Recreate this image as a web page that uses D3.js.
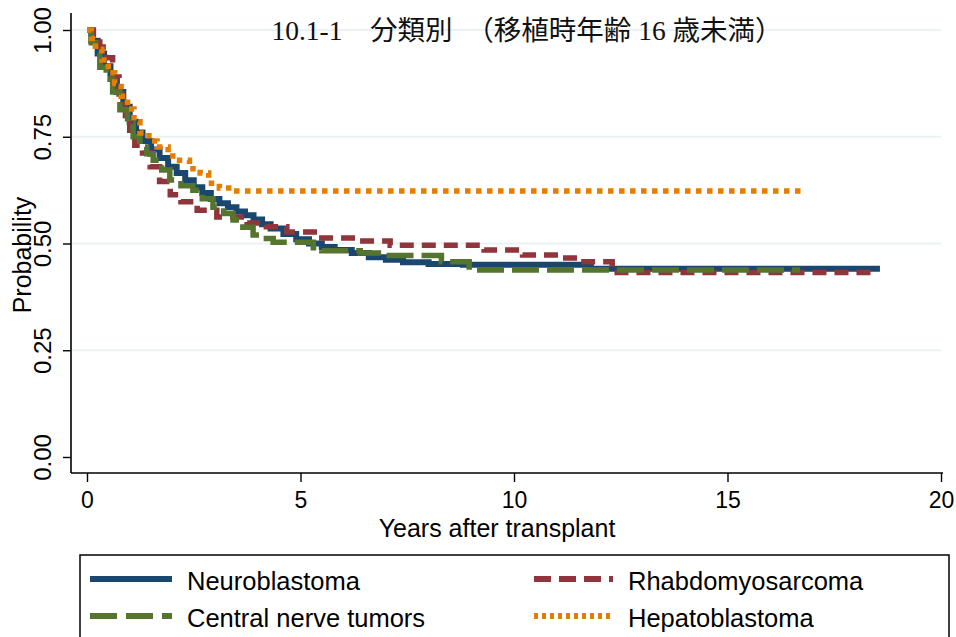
<!DOCTYPE html>
<html><head><meta charset="utf-8">
<script src="https://cdn.jsdelivr.net/npm/d3@7"></script>
<style>
html,body{margin:0;padding:0;background:#fff;}
svg{display:block;}
text{font-family:"Liberation Sans",Arial,sans-serif;}
</style></head>
<body>
<svg id="chart" width="956" height="637"></svg>
<script>
const titleText = "10.1-1\u3000分類別\u3000（移植時年齢 16 歳未満）";
const xLabel = "Years after transplant";
const yLabel = "Probability";
const xTicks = [0, 5, 10, 15, 20];
const yTicks = [0, 0.25, 0.5, 0.75, 1.0];
const seriesNames = ["Neuroblastoma", "Rhabdomyosarcoma", "Central nerve tumors", "Hepatoblastoma"];
const seriesColors = ["#1a476f", "#90353b", "#55752f", "#e37e00"];

const neuroT = [0, 0.1, 0.25, 0.4, 0.55, 0.7, 0.85, 1.0, 1.15, 1.3, 1.5, 1.7, 1.9, 2.1, 2.3, 2.5, 2.7, 2.9, 3.1, 3.3, 3.5, 3.7, 3.9, 4.1, 4.3, 4.6, 4.9, 5.2, 5.5, 5.8, 6.2, 6.6, 7.0, 7.4, 8.0, 8.8, 11.8, 18.57];
const neuroS = [1.0, 0.975, 0.945, 0.915, 0.885, 0.855, 0.82, 0.785, 0.76, 0.74, 0.72, 0.7, 0.68, 0.665, 0.648, 0.632, 0.618, 0.604, 0.594, 0.585, 0.575, 0.566, 0.556, 0.545, 0.535, 0.522, 0.51, 0.5, 0.492, 0.485, 0.478, 0.468, 0.462, 0.456, 0.452, 0.45, 0.441, 0.441];

const rhabT = [0, 0.15, 0.3, 0.45, 0.6, 0.75, 0.9, 1.0, 1.12, 1.3, 1.48, 1.7, 1.95, 2.2, 2.58, 3.04, 3.75, 4.2, 4.68, 5.39, 6.39, 7.1, 9.3, 10.2, 11.1, 11.5, 12.3, 18.5];
const rhabS = [1.0, 0.98, 0.96, 0.935, 0.89, 0.85, 0.8, 0.765, 0.73, 0.712, 0.68, 0.645, 0.614, 0.598, 0.578, 0.562, 0.548, 0.539, 0.527, 0.513, 0.506, 0.496, 0.485, 0.473, 0.466, 0.457, 0.432, 0.432];

const cnsT = [0, 0.1, 0.2, 0.3, 0.45, 0.6, 0.77, 0.95, 1.08, 1.24, 1.4, 1.55, 1.75, 1.94, 2.2, 2.48, 2.7, 2.95, 3.2, 3.42, 3.65, 3.89, 4.1, 4.36, 5.3, 5.5, 6.4, 7.0, 8.3, 8.95, 16.7];
const cnsS = [1.0, 0.97, 0.945, 0.913, 0.885, 0.855, 0.813, 0.78, 0.75, 0.726, 0.71, 0.695, 0.672, 0.649, 0.635, 0.625, 0.605, 0.585, 0.57, 0.555, 0.538, 0.52, 0.512, 0.503, 0.49, 0.483, 0.478, 0.472, 0.457, 0.438, 0.438];

const hepT = [0, 0.1, 0.2, 0.35, 0.5, 0.65, 0.8, 0.95, 1.1, 1.24, 1.45, 1.64, 1.9, 2.1, 2.4, 2.65, 2.85, 3.1, 3.4, 16.8];
const hepS = [1.0, 0.98, 0.955, 0.93, 0.9, 0.875, 0.845, 0.815, 0.785, 0.759, 0.74, 0.726, 0.705, 0.695, 0.675, 0.665, 0.641, 0.63, 0.623, 0.623];

const svg = d3.select("#chart");
const plot = {left: 71, right: 943, top: 13, bottom: 473};
const x = d3.scaleLinear().domain([0, 20]).range([87, 941]);
const y = d3.scaleLinear().domain([0, 1]).range([457, 30]);

// gridlines
svg.append("g").selectAll("line").data(yTicks.filter(d => d > 0)).join("line")
  .attr("x1", plot.left + 1).attr("x2", 941)
  .attr("y1", d => y(d)).attr("y2", d => y(d))
  .attr("stroke", "#eaf2f3").attr("stroke-width", 2.2);

// title
svg.append("text").attr("x", 527).attr("y", 40).attr("text-anchor", "middle")
  .style("font-family", "'Liberation Serif','Noto Sans CJK JP',serif")
  .style("font-size", "27.5px").attr("fill", "#111").text(titleText);

// y axis
const yAxis = svg.append("g").attr("transform", `translate(${plot.left},0)`)
  .call(d3.axisLeft(y).tickValues(yTicks).tickFormat(d3.format(".2f")).tickSize(8).tickSizeOuter(0));
yAxis.select(".domain").remove();
yAxis.append("line").attr("x1", 0).attr("x2", 0).attr("y1", plot.top).attr("y2", plot.bottom)
  .attr("stroke", "#000").attr("stroke-width", 1.6);
yAxis.selectAll(".tick line").attr("stroke", "#000").attr("stroke-width", 1.4);
yAxis.selectAll(".tick text")
  .attr("x", 0).attr("y", 0).attr("dy", 0)
  .attr("transform", "translate(-26,0) rotate(-90)")
  .attr("text-anchor", "middle").attr("dominant-baseline", "middle")
  .style("font-size", "24px").style("font-family", "'Liberation Sans',Arial,sans-serif").attr("fill", "#000");

// x axis
const xAxis = svg.append("g").attr("transform", `translate(0,${plot.bottom})`)
  .call(d3.axisBottom(x).tickValues(xTicks).tickFormat(d3.format("d")).tickSize(9).tickSizeOuter(0));
xAxis.select(".domain").remove();
xAxis.append("line").attr("x1", plot.left).attr("x2", plot.right).attr("y1", 0).attr("y2", 0)
  .attr("stroke", "#000").attr("stroke-width", 1.6);
xAxis.selectAll(".tick line").attr("stroke", "#000").attr("stroke-width", 1.4);
xAxis.selectAll(".tick text").attr("y", 19).attr("dy", "0.71em")
  .style("font-size", "23px").style("font-family", "'Liberation Sans',Arial,sans-serif").attr("fill", "#000");

// axis titles
svg.append("text").attr("x", 497).attr("y", 537).attr("text-anchor", "middle")
  .style("font-size", "25px").attr("fill", "#000").text(xLabel);
svg.append("text").attr("transform", "translate(31,255) rotate(-90)").attr("text-anchor", "middle")
  .style("font-size", "25px").attr("fill", "#000").text(yLabel);

// curves
const series = [
  {t: neuroT, s: neuroS, dash: null, w: 6},
  {t: rhabT, s: rhabS, dash: "14,8", w: 5.5},
  {t: cnsT, s: cnsS, dash: "27,8", w: 5.5},
  {t: hepT, s: hepS, dash: "5.5,5.5", w: 5.5}
];
const line = d3.line().x(d => x(d[0])).y(d => y(d[1])).curve(d3.curveStepAfter);
series.forEach((ser, i) => {
  const pts = ser.t.map((t, j) => [t, ser.s[j]]);
  svg.append("path").datum(pts).attr("d", line)
    .attr("fill", "none").attr("stroke", seriesColors[i]).attr("stroke-width", ser.w)
    .attr("stroke-dasharray", ser.dash).attr("stroke-linejoin", "miter");
});

// legend
const lg = svg.append("g");
lg.append("rect").attr("x", 80).attr("y", 555).attr("width", 869).attr("height", 100)
  .attr("fill", "#fff").attr("stroke", "#000").attr("stroke-width", 1.5);
const legPos = [[90, 579], [534, 579], [90, 616], [534, 616]];
const legDash = [null, "17,8", "27,9", "4,4"];
const legEnd = [172, 613, 172, 613];
seriesNames.forEach((name, i) => {
  const [lx, ly] = legPos[i];
  lg.append("line").attr("x1", lx).attr("x2", legEnd[i]).attr("y1", ly).attr("y2", ly)
    .attr("stroke", seriesColors[i]).attr("stroke-width", 6).attr("stroke-dasharray", legDash[i]);
  lg.append("text").attr("x", legEnd[i] + 15).attr("y", ly + 4).attr("dominant-baseline", "middle")
    .style("font-size", "25.5px").attr("fill", "#000").text(name);
});
</script>
</body></html>
